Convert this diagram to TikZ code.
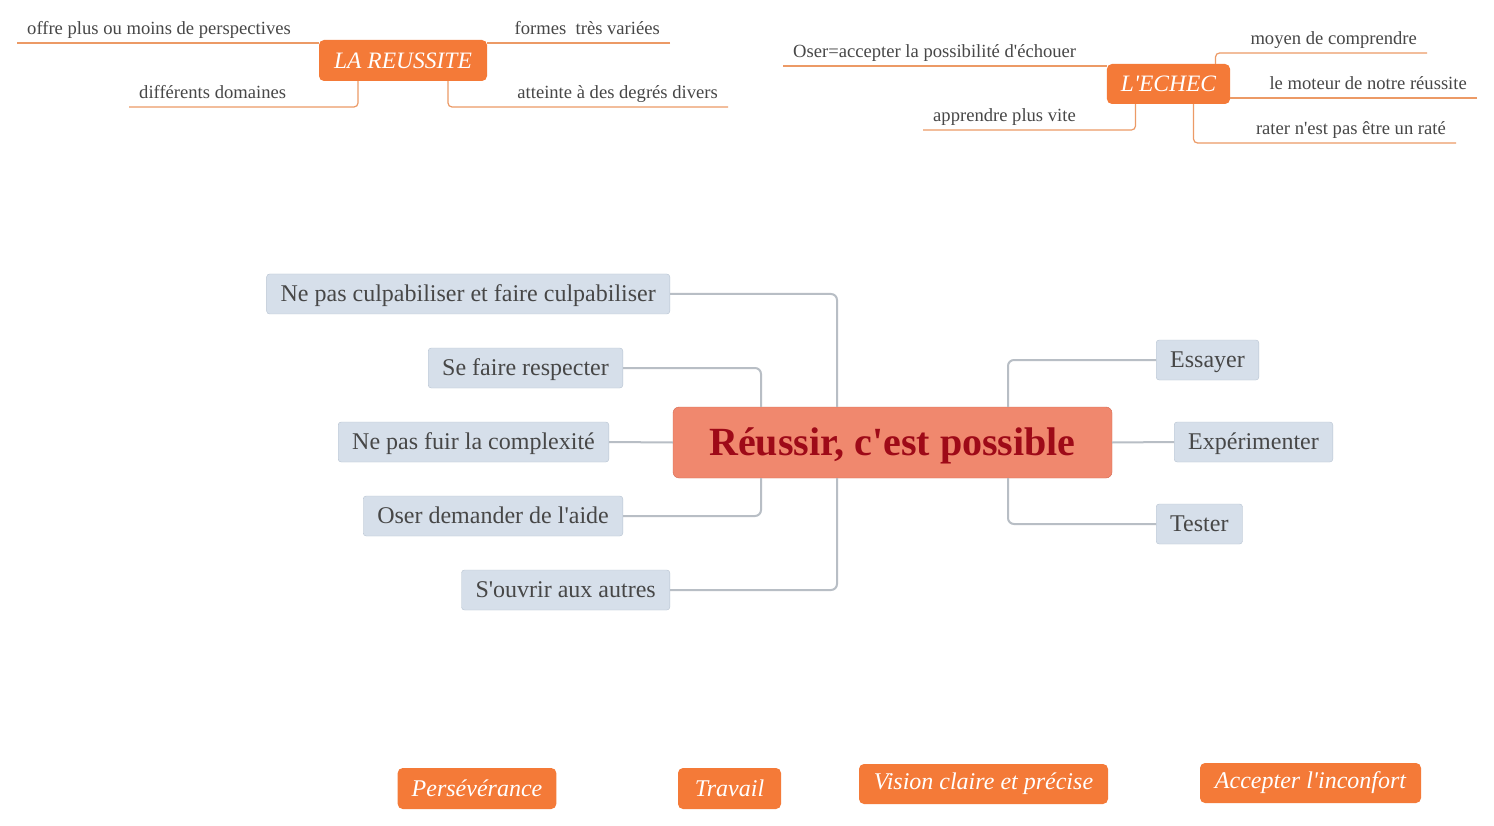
\documentclass[tikz,border=0pt]{standalone}
\usepackage{fontspec}
\setmainfont{Liberation Serif}[Ligatures=TeXOff]
\usetikzlibrary{positioning}
\definecolor{orangebox}{HTML}{F47A38}
\definecolor{twigorange}{HTML}{EC9A66}
\definecolor{topicblue}{HTML}{D6DFEA}
\definecolor{topicline}{HTML}{B7C3D1}
\definecolor{linkgray}{HTML}{B8BEC5}
\definecolor{goalfill}{HTML}{F0886E}
\definecolor{goalline}{HTML}{D46A52}
\definecolor{goaltext}{HTML}{9E0A18}
\definecolor{textgray}{HTML}{474747}

\begin{document}
\begin{tikzpicture}[
  x=1pt, y=-1pt,
  hub/.style={fill=orangebox, text=white, rounded corners=5pt, minimum height=41pt, inner xsep=14pt, font=\fontsize{23.5}{26}\selectfont\itshape},
  quality/.style={hub, font=\fontsize{24}{28}\selectfont\itshape},
  leaf/.style={inner xsep=10pt, inner ysep=4pt, text depth=4pt, text=textgray, font=\fontsize{18.6}{22}\selectfont},
  twig/.style={draw=twigorange, line width=1.2pt, rounded corners=4pt},
  topic/.style={draw=topicline, fill=topicblue, rounded corners=3pt, minimum height=40pt, inner xsep=14pt, text depth=1pt, text=textgray, font=\fontsize{24}{28}\selectfont},
  link/.style={draw=linkgray, line width=2pt, rounded corners=6pt}
]
\useasboundingbox[fill=white] (0,0) rectangle (1494,826);

\node[hub, minimum width=168pt] (reussite) at (403,60.5) {LA REUSSITE};
\node[leaf, anchor=south west] (perspectives) at (17,43) {offre plus ou moins de perspectives};
\node[leaf, anchor=south east] (formes) at (670,43) {formes~~très variées};
\node[leaf, anchor=south west] (domaines) at (129,107) {différents domaines};
\node[leaf, anchor=south east] (degres) at (728,107) {atteinte à des degrés divers};
\draw[twig] (perspectives.south west) -- (perspectives.south west -| reussite.west);
\draw[twig] (formes.south east) -- (formes.south east -| reussite.east);
\draw[twig] ([xshift=-45pt]reussite.south) |- (domaines.south west);
\draw[twig] ([xshift=45pt]reussite.south) |- (degres.south east);

\node[hub, minimum width=119pt, minimum height=40pt] (echec) at (1168.5,84) {L'ECHEC};
\node[leaf, anchor=south west] (oser) at (783,66) {Oser=accepter la possibilité d'échouer};
\node[leaf, anchor=south east] (moyen) at (1427,53) {moyen de comprendre};
\node[leaf, anchor=south east] (moteur) at (1477,98) {le moteur de notre réussite};
\node[leaf, anchor=south east] (rater) at (1456,143) {rater n'est pas être un raté};
\node[leaf, anchor=south west] (apprendre) at (923,130) {apprendre plus vite};
\draw[twig] (oser.south west) -- (oser.south west -| echec.west);
\draw[twig] ([xshift=47pt]echec.north) |- (moyen.south east);
\draw[twig] (moteur.south east) -- (moteur.south east -| echec.east);
\draw[twig] ([xshift=25pt]echec.south) |- (rater.south east);
\draw[twig] ([xshift=-33pt]echec.south) |- (apprendre.south west);

\node[draw=goalline, fill=goalfill, rounded corners=6pt, minimum width=439pt, minimum height=71pt, text depth=2pt, text=goaltext, font=\fontsize{40}{46}\selectfont\bfseries] (reussir) at (892.5,442.5) {Réussir, c'est possible};
\node[topic, anchor=east] (culpabiliser) at (670,294) {Ne pas culpabiliser et faire culpabiliser};
\node[topic, anchor=east] (respect) at (623,368) {Se faire respecter};
\node[topic, anchor=east] (complexite) at (609,442) {Ne pas fuir la complexité};
\node[topic, anchor=east] (aide) at (623,516) {Oser demander de l'aide};
\node[topic, anchor=east] (ouvrir) at (670,590) {S'ouvrir aux autres};
\node[topic, anchor=west] (essayer) at (1156,360) {Essayer};
\node[topic, anchor=west] (experimenter) at (1174,442) {Expérimenter};
\node[topic, anchor=west] (tester) at (1156,524) {Tester};
\draw[link] (culpabiliser.east) -| ([xshift=-55.5pt]reussir.north);
\draw[link] (respect.east) -| ([xshift=-131.5pt]reussir.north);
\draw[link] (complexite.east) -- (reussir.west);
\draw[link] (aide.east) -| ([xshift=-131.5pt]reussir.south);
\draw[link] (ouvrir.east) -| ([xshift=-55.5pt]reussir.south);
\draw[link] (essayer.west) -| ([xshift=115.5pt]reussir.north);
\draw[link] (experimenter.west) -- (reussir.east);
\draw[link] (tester.west) -| ([xshift=115.5pt]reussir.south);

\node[quality, minimum width=158pt] (perseverance) at (477,788.5) {Persévérance};
\node[quality, minimum width=103pt] (travail) at (729.5,788.5) {Travail};
\node[quality, minimum width=249pt, minimum height=40pt] (vision) at (983.5,784) {Vision claire et précise};
\node[quality, minimum width=221pt, minimum height=40pt] (inconfort) at (1310.5,783) {Accepter l'inconfort};
\end{tikzpicture}
\end{document}
